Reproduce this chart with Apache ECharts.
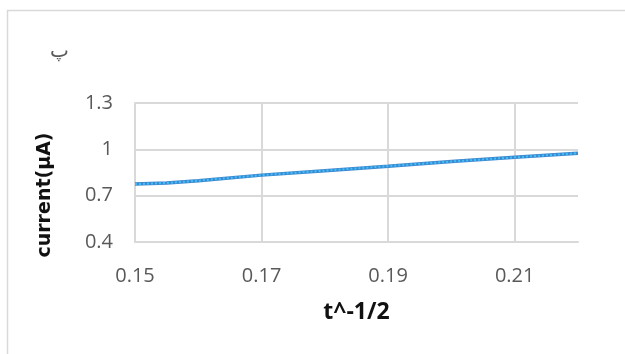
<!DOCTYPE html>
<html>
<head>
<meta charset="utf-8">
<script src="https://cdn.jsdelivr.net/npm/echarts@6/dist/echarts.min.js"></script>
<style>
  html, body { margin: 0; padding: 0; background: #fff; }
  #chart { width: 625px; height: 354px; }
</style>
</head>
<body>
<div id="chart"></div>
<script>
// Measured current against t^-1/2
const tValues = [0.15, 0.155, 0.16, 0.17, 0.18, 0.19, 0.20, 0.21, 0.22];
const currentValues = [0.775, 0.782, 0.797, 0.833, 0.862, 0.891, 0.921, 0.948, 0.975];

// Axis ticks shown on the chart
const xTicks = [0.15, 0.17, 0.19, 0.21];
const yTicks = [0.4, 0.7, 1.0, 1.3];

const panelLabel = 'پ';
const xTitle = 't^-1/2';
const yTitle = 'current(μA)';

const points = tValues.map((t, i) => [t, currentValues[i]]);
const gridColor = '#d9d9d9';
const labelColor = '#595959';
const font = '"Open Sans", "Noto Sans", sans-serif';

const chart = echarts.init(document.getElementById('chart'));
chart.setOption({
  animation: false,
  backgroundColor: '#fff',
  graphic: [
    {
      type: 'rect',
      shape: { x: 7.5, y: 10.5, width: 640, height: 360 },
      style: { fill: 'none', stroke: gridColor, lineWidth: 1.5 },
      silent: true
    },
    {
      type: 'text',
      left: 50, top: 42,
      style: { text: panelLabel, fill: labelColor, font: '20px "DejaVu Sans", sans-serif' }
    },
    {
      // vertical axis title, sitting a little below the plot's centre
      type: 'text',
      x: 45, y: 195,
      rotation: Math.PI / 2,
      style: {
        text: yTitle,
        fill: '#111',
        font: 'bold 19px "DejaVu Sans", sans-serif',
        align: 'center',
        verticalAlign: 'middle'
      }
    }
  ],
  grid: { left: 135, right: 47, top: 103, bottom: 112, containLabel: false },
  xAxis: {
    type: 'value',
    min: 0.15,
    max: 0.22,
    interval: 0.01,
    name: xTitle,
    nameLocation: 'middle',
    nameGap: 59,
    nameTextStyle: { fontFamily: font, fontWeight: 'bold', fontSize: 23, color: '#111' },
    axisLine: { show: true, lineStyle: { color: gridColor, width: 2 } },
    axisTick: { show: false, customValues: xTicks },
    axisLabel: {
      customValues: xTicks,
      formatter: v => v.toFixed(2),
      color: labelColor, fontFamily: font, fontSize: 20, margin: 24
    },
    splitLine: { show: true, customValues: xTicks, lineStyle: { color: gridColor, width: 2 } }
  },
  yAxis: {
    type: 'value',
    min: 0.4,
    max: 1.3,
    interval: 0.1,
    axisLine: { show: true, lineStyle: { color: gridColor, width: 2 } },
    axisTick: { show: false, customValues: yTicks },
    axisLabel: {
      customValues: yTicks,
      formatter: v => String(Math.round(v * 10) / 10),
      color: labelColor, fontFamily: font, fontSize: 20, margin: 22
    },
    splitLine: { show: true, customValues: yTicks, lineStyle: { color: gridColor, width: 2 } }
  },
  series: [
    {
      type: 'line',
      data: points,
      showSymbol: false,
      lineStyle: { color: '#3f88cc', width: 3.5 },
      z: 3
    },
    {
      type: 'line',
      data: points,
      showSymbol: false,
      lineStyle: { color: '#3cc0ff', width: 2, type: [2, 2] },
      z: 4
    }
  ]
});
</script>
</body>
</html>
